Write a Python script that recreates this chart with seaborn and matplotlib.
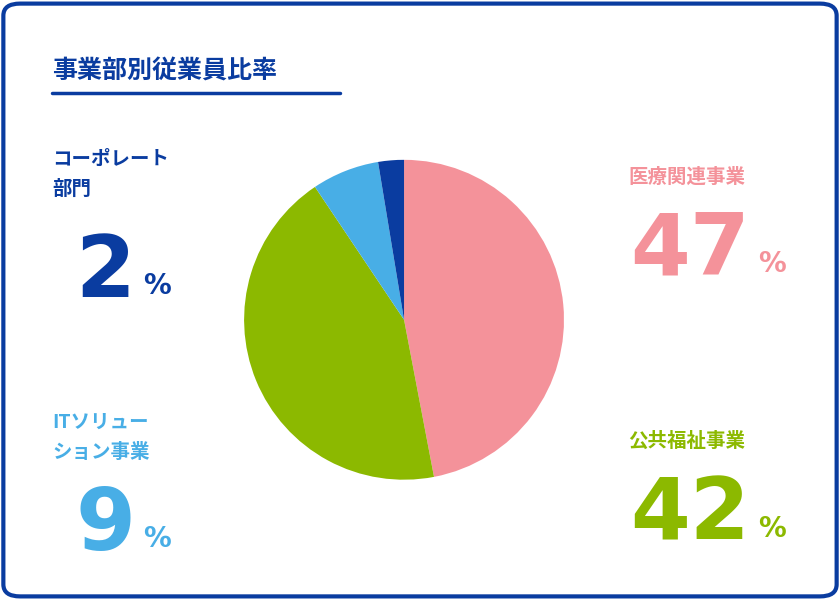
import matplotlib
matplotlib.use("Agg")
import matplotlib.pyplot as plt
from matplotlib.patches import FancyBboxPatch
import seaborn as sns

sns.set_theme(style="white")
plt.rcParams['font.family'] = ['Noto Sans CJK JP', 'DejaVu Sans']

# slice sizes (clockwise from top)
segments = ["医療関連事業", "公共福祉事業", "ITソリューション事業", "コーポレート部門"]
shares = [47, 43.6, 6.8, 2.6]
colors = ["#f4929a", "#8cb900", "#48aee6", "#0a3ca0"]
# printed labels
label_names = ["医療関連事業", "公共福祉事業", "ITソリュー\nション事業", "コーポレート\n部門"]
label_pcts = ["47", "42", "9", "2"]

fig = plt.figure(figsize=(8.4, 6), dpi=100)
fig.patch.set_facecolor("white")

border = FancyBboxPatch((0.004, 0.006), 0.992, 0.988, boxstyle="round,pad=0,rounding_size=0.02",
                        transform=fig.transFigure, fill=False, edgecolor="#0a3ca0", linewidth=3)
fig.add_artist(border)

ax = fig.add_axes([0.481 - 0.238, 0.467 - 0.3333, 0.476, 0.6667])
ax.pie(shares, colors=colors, startangle=90, counterclock=False,
       wedgeprops=dict(linewidth=0))
ax.set_aspect("equal")

fig.text(52 / 840, 1 - 72 / 600, "事業部別従業員比率", fontsize=18, fontweight="bold",
         color="#0a3ca0", va="center", ha="left")
fig.add_artist(plt.Line2D([52 / 840, 340 / 840], [1 - 93 / 600] * 2, color="#0a3ca0",
                          linewidth=2.5, transform=fig.transFigure))

# label positions (name top-left, number baseline) in pixels
pos = [(628, 168, 630, 275), (628, 432, 630, 540), (52, 413, 75, 550), (52, 150, 75, 297)]
for name, pct, c, (nx, ny, px, py) in zip(label_names, label_pcts, colors, pos):
    fig.text(nx / 840, 1 - ny / 600, name, fontsize=14, fontweight="bold", color=c,
             va="top", ha="left", linespacing=1.7)
    t = fig.text(px / 840, 1 - py / 600, pct, fontsize=62, fontweight="bold", color=c,
                 va="baseline", ha="left", family=["DejaVu Sans"])
    fig.canvas.draw()
    bb = t.get_window_extent()
    fig.text((bb.x1 + 8) / 840, 1 - (py - 3) / 600, "%", fontsize=20, fontweight="bold",
             color=c, va="baseline", ha="left", family=["DejaVu Sans"])

fig.savefig("out.png", dpi=100)
